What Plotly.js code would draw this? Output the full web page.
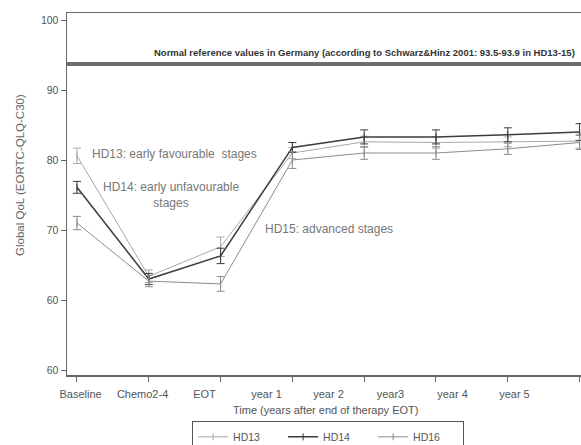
<!DOCTYPE html>
<html>
<head>
<meta charset="utf-8">
<script src="https://cdn.plot.ly/plotly-3.0.1.min.js"></script>
<style>
html,body{margin:0;padding:0;overflow:hidden;background:#fff;}
#chart{width:595px;height:445px;}
</style>
</head>
<body>
<div id="chart"></div>
<script>
// ---- data ----
const categories = ['Baseline','Chemo2-4','EOT','year 1','year 2','year3','year 4','year 5'];
const hd13 = [80.6, 63.4, 67.6, 81.0, 82.6, 82.5, 82.6, 82.7];
const hd13Err = [1.1, 0.9, 1.4, 0.8, 0.8, 0.8, 0.7, 1.0];
const hd14 = [76.1, 63.0, 66.3, 81.8, 83.3, 83.3, 83.6, 84.0];
const hd14Err = [0.85, 0.8, 1.1, 0.7, 1.0, 1.0, 1.0, 1.2];
const hd16 = [71.0, 62.7, 62.3, 80.0, 81.0, 81.0, 81.6, 82.5];
const hd16Err = [0.95, 0.8, 1.05, 1.2, 0.9, 0.9, 0.8, 1.0];
const yTickVals = [50, 60, 70, 80, 90, 100];
const yTickLabels = ['60', '60', '70', '80', '90', '100'];
const refValue = 93.7;
const refText = 'Normal reference values in Germany (according to Schwarz&Hinz 2001: 93.5-93.9 in HD13-15)';

const FONT = 'Liberation Sans, Arial, sans-serif';

function series(name, y, err, color, width) {
  return {
    type: 'scatter', mode: 'lines+markers', name: name,
    x: categories, y: y,
    line: {color: color, width: width},
    marker: {symbol: 'line-ns', size: 5, line: {color: color, width: 1}, color: color},
    error_y: {type: 'data', array: err, visible: true, color: color, thickness: 1, width: 4},
    cliponaxis: true
  };
}

const traces = [
  series('HD13', hd13, hd13Err, '#a9a9a9', 1),
  series('HD14', hd14, hd14Err, '#3c3c3c', 1.5),
  series('HD16', hd16, hd16Err, '#8c8c8c', 1),
  {type: 'scatter', mode: 'lines', x: categories, y: hd13, xaxis: 'x2', yaxis: 'y',
   line: {color: 'rgba(0,0,0,0)', width: 0}, showlegend: false, hoverinfo: 'skip'}
];

const layout = {
  width: 595, height: 445,
  margin: {l: 50, r: 5, t: 13, b: 70, autoexpand: false},
  paper_bgcolor: '#fff', plot_bgcolor: '#fff',
  font: {family: FONT, color: '#555', size: 10},
  showlegend: true,
  legend: {
    orientation: 'h', x: 0.515, xanchor: 'center', y: -0.128, yanchor: 'top',
    bordercolor: '#555', borderwidth: 1, font: {size: 10.5, color: '#555'},
    bgcolor: '#fff', entrywidth: 45
  },
  xaxis: {
    type: 'category', domain: [0.0315, 1], anchor: 'y',
    range: [-0.139, 7.145],
    showline: true, linecolor: '#666', linewidth: 1.5, mirror: true,
    ticks: 'outside', ticklen: 5, tickcolor: '#666', tickwidth: 1,
    showticklabels: false, showgrid: false, zeroline: false
  },
  xaxis2: {
    type: 'category', domain: [0, 1], anchor: 'y', overlaying: 'x', side: 'bottom',
    range: [-0.219, 8.219],
    showline: false, ticks: '', showgrid: false, zeroline: false,
    tickfont: {size: 11, color: '#555'}, ticklabelstandoff: 11
  },
  yaxis: {
    anchor: 'x', range: [49.29, 101],
    tickvals: yTickVals, ticktext: yTickLabels,
    showline: true, linecolor: '#666', linewidth: 1.5,
    ticks: 'outside', ticklen: 5, tickcolor: '#666', tickwidth: 1,
    showgrid: false, zeroline: false, tickfont: {size: 10.5, color: '#555'}
  },
  shapes: [
    {type: 'line', xref: 'x domain', yref: 'y', x0: 0, x1: 1, y0: refValue, y1: refValue,
     line: {color: '#6e6e6e', width: 4}}
  ],
  annotations: [
    {xref: 'x domain', yref: 'y', x: 0.975, y: refValue, xanchor: 'right', yanchor: 'bottom',
     yshift: 4, text: '<b>' + refText + '</b>', showarrow: false,
     font: {size: 9.5, color: '#333', family: FONT}},
    {xref: 'x', yref: 'y', x: 0.18, y: 80.86, xanchor: 'left', yanchor: 'middle',
     text: 'HD13: early favourable  stages', showarrow: false, font: {size: 12, color: '#777'}},
    {xref: 'x', yref: 'y', x: 1.31, y: 75.0, xanchor: 'center', yanchor: 'middle',
     text: 'HD14: early unfavourable<br>stages', showarrow: false, font: {size: 12, color: '#777'}},
    {xref: 'x', yref: 'y', x: 2.59, y: 70.1, xanchor: 'left', yanchor: 'middle',
     text: 'HD15: advanced stages', showarrow: false, font: {size: 12, color: '#777'}},
    {xref: 'x domain', yref: 'paper', x: 0.495, y: -0.097, xanchor: 'center', yanchor: 'middle',
     text: 'Time (years after end of therapy EOT)', showarrow: false, font: {size: 11, color: '#555'}},
    {xref: 'paper', yref: 'paper', x: -0.056, y: 0.552, xanchor: 'center', yanchor: 'middle',
     textangle: -90, text: 'Global QoL (EORTC-QLQ-C30)', showarrow: false, font: {size: 11.5, color: '#666'}}
  ]
};

Plotly.newPlot('chart', traces, layout, {staticPlot: true, displayModeBar: false});
</script>
</body>
</html>
